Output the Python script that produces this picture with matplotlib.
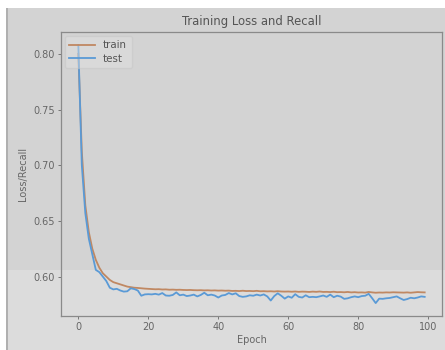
import matplotlib.pyplot as plt
from matplotlib.patches import Rectangle

# loss / recall per epoch
train_loss = [0.800, 0.712, 0.664, 0.640, 0.625, 0.615, 0.608, 0.603, 0.600, 0.597,
              0.595, 0.594, 0.593, 0.592, 0.591, 0.5905, 0.590, 0.5898, 0.5895, 0.5892,
              0.5890, 0.5888, 0.5886, 0.5887, 0.5884, 0.5885, 0.5882, 0.5883, 0.5881, 0.5882,
              0.5880, 0.5879, 0.5880, 0.5878, 0.5877, 0.5878, 0.5876, 0.5877, 0.5875, 0.5876,
              0.5874, 0.5875, 0.5873, 0.5874, 0.5871, 0.5872, 0.5870, 0.5873, 0.5870, 0.5871,
              0.5869, 0.5872, 0.5868, 0.5869, 0.5867, 0.5868, 0.5866, 0.5869, 0.5866, 0.5865,
              0.5866, 0.5864, 0.5866, 0.5863, 0.5865, 0.5864, 0.5862, 0.5865, 0.5863, 0.5866,
              0.5862, 0.5863, 0.5861, 0.5864, 0.5860, 0.5861, 0.5859, 0.5862, 0.5858, 0.5860,
              0.5857, 0.5858, 0.5856, 0.5862, 0.5858, 0.5855, 0.5857, 0.5856, 0.5858, 0.5857,
              0.5859, 0.5858, 0.5857, 0.5856, 0.5858, 0.5855, 0.5858, 0.5861, 0.5859, 0.5858]

test_loss = [0.808, 0.700, 0.657, 0.634, 0.620, 0.606, 0.604, 0.600, 0.596, 0.590,
             0.5885, 0.5890, 0.5875, 0.5865, 0.5868, 0.5895, 0.5888, 0.5875, 0.5828, 0.5840,
             0.5842, 0.5840, 0.5845, 0.5838, 0.5852, 0.5830, 0.5828, 0.5835, 0.5858, 0.5832,
             0.5838, 0.5825, 0.5830, 0.5838, 0.5822, 0.5835, 0.5855, 0.5832, 0.5838, 0.5830,
             0.5812, 0.5830, 0.5835, 0.5852, 0.5840, 0.5850, 0.5825, 0.5818, 0.5822, 0.5832,
             0.5828, 0.5838, 0.5830, 0.5840, 0.5822, 0.5785, 0.5825, 0.5850, 0.5828, 0.5802,
             0.5822, 0.5810, 0.5842, 0.5818, 0.5812, 0.5832, 0.5815, 0.5818, 0.5815, 0.5822,
             0.5830, 0.5818, 0.5838, 0.5815, 0.5828, 0.5820, 0.5800, 0.5805, 0.5815, 0.5822,
             0.5815, 0.5825, 0.5828, 0.5845, 0.5805, 0.5762, 0.5802, 0.5800, 0.5805, 0.5808,
             0.5815, 0.5822, 0.5805, 0.5790, 0.5798, 0.5810, 0.5805, 0.5812, 0.5822, 0.5818]

epochs = range(len(train_loss))

fig = plt.figure(figsize=(4.45, 3.5), dpi=100, facecolor='white')

# grey screenshot backdrop (darker upper band)
W, H = 445, 350
fig.patches.append(Rectangle((7 / W, 0), 1, 1 - 8 / H, transform=fig.transFigure,
                             facecolor='#dcdcdc', edgecolor='none', zorder=-2))
fig.patches.append(Rectangle((7 / W, 80 / H), 1, 1 - 88 / H, transform=fig.transFigure,
                             facecolor='#d3d3d3', edgecolor='none', zorder=-1))
fig.patches.append(Rectangle((6 / W, 0), 1.5 / W, 1 - 8 / H, transform=fig.transFigure,
                             facecolor='#b0b0b0', edgecolor='none', zorder=-1))

ax = fig.add_axes([61 / W, 34 / H, 381 / W, 284 / H])
ax.set_facecolor('none')

ax.plot(epochs, train_loss, color='#c08862', lw=1.3, label='train')
ax.plot(epochs, test_loss, color='#5a9ad6', lw=1.3, label='test')

ax.set_title('Training Loss and Recall', fontsize=8.4, color='#555555', pad=5)
ax.set_xlabel('Epoch', fontsize=7, color='#666666', labelpad=2)
ax.set_ylabel('Loss/Recall', fontsize=7, color='#666666', labelpad=4)
ax.set_yticks([0.60, 0.65, 0.70, 0.75, 0.80])
ax.set_xticks([0, 20, 40, 60, 80, 100])
ax.tick_params(labelsize=7, colors='#666666', length=2.5, width=0.6, pad=2)
for sp in ax.spines.values():
    sp.set_color('#8a8a8a')
    sp.set_linewidth(0.9)

leg = ax.legend(loc='upper left', fontsize=7.4, facecolor='#e2e2e2', edgecolor='#c4c4c4',
                framealpha=0.45, borderaxespad=0.35, handlelength=2.5, labelspacing=0.35,
                borderpad=0.45)
for t in leg.get_texts():
    t.set_color('#555555')

fig.savefig('out.png', dpi=100, facecolor=fig.get_facecolor())
